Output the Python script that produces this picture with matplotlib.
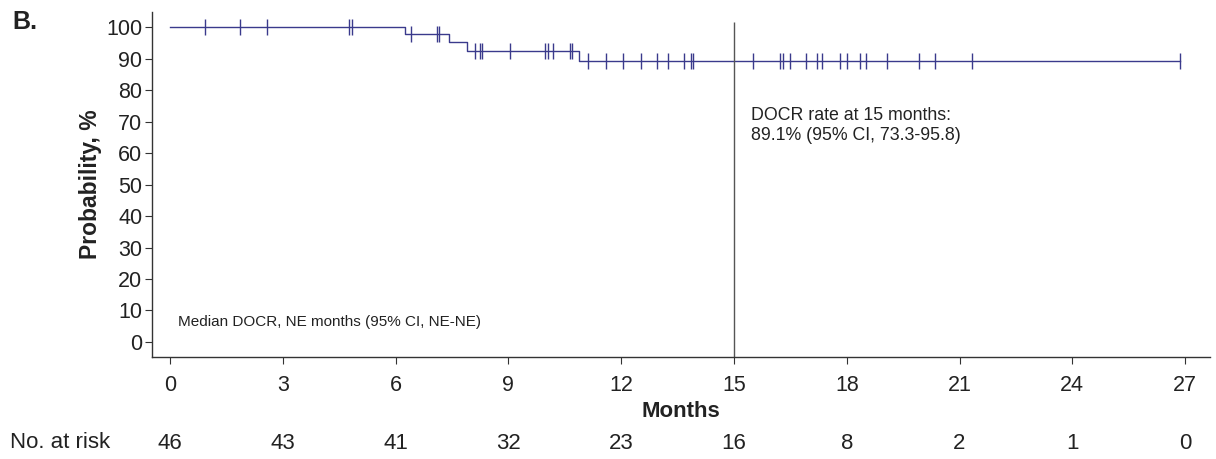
import numpy as np
import matplotlib
matplotlib.use("Agg")
import matplotlib.pyplot as plt

plt.rcParams['font.family'] = ['Liberation Sans', 'DejaVu Sans']

# KM step data (months, survival %)
event_months = [6.25, 7.43, 7.91, 10.88]
event_surv = [97.8, 95.3, 92.4, 89.1]

# censored observations (months)
censor_months = [0.93, 1.85, 2.57, 4.75, 4.85, 6.40, 7.10, 7.15, 8.11, 8.24, 8.30,
                 9.05, 9.97, 10.06, 10.18, 10.64, 10.68, 11.13, 11.60, 12.04, 12.52,
                 12.94, 13.24, 13.67, 13.87, 13.92, 15.50, 16.22, 16.30, 16.49, 16.91,
                 17.20, 17.34, 17.82, 18.00, 18.35, 18.51, 19.07, 19.92, 20.35, 21.33,
                 26.86]

# number at risk table
risk_months = [0, 3, 6, 9, 12, 15, 18, 21, 24, 27]
risk_counts = [46, 43, 41, 32, 23, 16, 8, 2, 1, 0]

ref_month = 15
rate_text = "DOCR rate at 15 months:\n89.1% (95% CI, 73.3-95.8)"
median_text = "Median DOCR, NE months (95% CI, NE-NE)"

curve_col = '#3a3a8c'
txt_col = '#222222'

fig = plt.figure(figsize=(12.16, 4.59), dpi=100)
ax = fig.add_axes([0.125, 0.222, 0.870, 0.752])

# step curve
xs = np.array([0] + event_months + [max(censor_months)])
ys = np.array([100] + event_surv + [event_surv[-1]])
ax.step(xs, ys, where='post', color=curve_col, lw=1.0)

# censor marks at the curve level
cm = np.array(censor_months)
idx = np.searchsorted(xs, cm, side='right') - 1
ax.plot(cm, ys[idx], ls='none', marker='|', markersize=11, mew=1.0, color=curve_col)

ax.set_xlim(-0.48, 27.66)
ax.set_ylim(-4.8, 104.8)

# reference line at 15 months
ax.vlines(ref_month, -4.8, 101.6, color='#555555', lw=1.0)

ax.text(15.45, 74.6, rate_text, fontsize=12.8, color=txt_col, va='top', ha='left',
        linespacing=1.25)
ax.text(0.22, 6.3, median_text, fontsize=11, color=txt_col, va='center', ha='left')

ax.spines['top'].set_visible(False)
ax.spines['right'].set_visible(False)
for s in ['left', 'bottom']:
    ax.spines[s].set_color('#333333')
    ax.spines[s].set_linewidth(1.0)

ax.set_xticks(risk_months)
ax.set_yticks(np.arange(0, 101, 10))
ax.tick_params(axis='x', length=5, pad=8, labelsize=15.5, colors='#333333', labelcolor=txt_col)
ax.tick_params(axis='y', length=5, pad=2, labelsize=15.5, colors='#333333', labelcolor=txt_col)

ax.set_xlabel('Months', fontsize=16, fontweight='bold', color=txt_col)
ax.xaxis.set_label_coords(0.5, -0.128)
ax.set_ylabel('Probability, %', fontsize=16.5, fontweight='bold', color=txt_col)
ax.yaxis.set_label_coords(-0.047, 0.5)

# number at risk row
tr = ax.get_xaxis_transform()
for m, n in zip(risk_months, risk_counts):
    ax.text(m, -0.249, str(n), transform=tr, ha='center', va='center', fontsize=16,
            color=txt_col)
fig.text(10 / 1216, 1 - 443 / 459, 'No. at risk', ha='left', va='center', fontsize=16,
         color=txt_col)

fig.text(12 / 1216, 1 - 22 / 459, 'B.', ha='left', va='center', fontsize=18,
         fontweight='bold', color=txt_col)

fig.savefig('out.png', dpi=100)
